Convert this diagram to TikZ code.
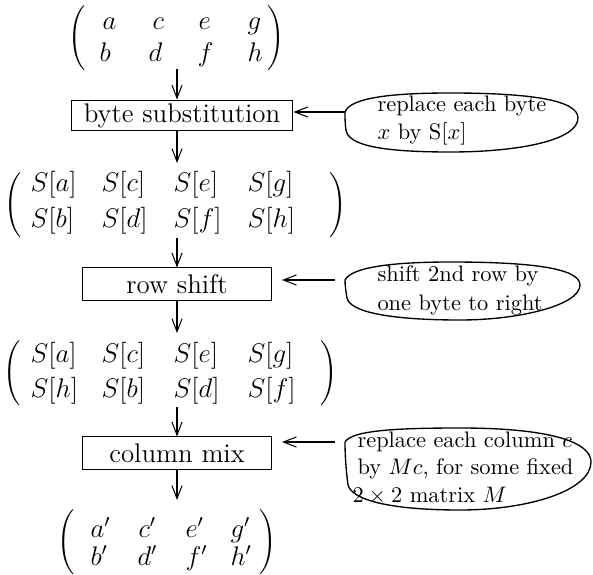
\documentclass[tikz,border=0pt]{standalone}
\usepackage{graphicx}
\usetikzlibrary{arrows.meta}
\newcommand\myLP{\resizebox*{!}{29pt}{$\Biggl($}}
\newcommand\myRP{\resizebox*{!}{29pt}{$\Biggr)$}}
\begin{document}
\begin{tikzpicture}[x=0.446pt,y=-0.446pt, line width=0.45pt,
  font=\fontsize{12}{14.5}\selectfont,
  arr/.style={-{Straight Barb[length=5.8pt,width=4.5pt]}},
  box/.style={draw, rectangle, inner sep=0pt},
  ent/.style={anchor=base west, inner sep=0pt},
  note/.style={anchor=base west, inner sep=0pt, font=\fontsize{10}{12}\selectfont},
  paren/.style={inner sep=0pt},
  blob/.style={draw, line width=0.6pt}]
\useasboundingbox (0,0) rectangle (593,575);

% matrix 1
\node[paren] (m1l) at (77,38) {\myLP};
\node[paren] (m1r) at (276,38) {\myRP};
\node[ent] (a1) at (102,30) {$a$};
\node[ent] (c1) at (152,30) {$c$};
\node[ent] (e1) at (198,30) {$e$};
\node[ent] (g1) at (247,30) {$g$};
\node[ent] (b1) at (99,62) {$b$};
\node[ent] (d1) at (148,62) {$d$};
\node[ent] (f1) at (197,62) {$f$};
\node[ent] (h1) at (247,62) {$h$};
\coordinate (m1b) at (177,69);

% box 1
\node[box, minimum width=99pt, minimum height=13.8pt] (box1) at (182,115.5) {byte substitution};

% matrix 2
\coordinate (m2t) at (177,163);
\node[paren] (m2l) at (13,205) {\myLP};
\node[paren] (m2r) at (338,205) {\myRP};
\node[ent] (sa2) at (30,192) {$S[a]$};
\node[ent] (sc2) at (101,192) {$S[c]$};
\node[ent] (se2) at (173,192) {$S[e]$};
\node[ent] (sg2) at (247,192) {$S[g]$};
\node[ent] (sb2) at (30,227) {$S[b]$};
\node[ent] (sd2) at (101,227) {$S[d]$};
\node[ent] (sf2) at (173,227) {$S[f]$};
\node[ent] (sh2) at (247,227) {$S[h]$};
\coordinate (m2b) at (177,238);

% box 2
\node[box, minimum width=84.7pt, minimum height=14.3pt] (box2) at (177,284) {row shift};

% matrix 3
\coordinate (m3t) at (177,333);
\node[paren] (m3l) at (12,373) {\myLP};
\node[paren] (m3r) at (329,373) {\myRP};
\node[ent] (sa3) at (30,362) {$S[a]$};
\node[ent] (sc3) at (101,362) {$S[c]$};
\node[ent] (se3) at (173,362) {$S[e]$};
\node[ent] (sg3) at (247,362) {$S[g]$};
\node[ent] (sh3) at (30,397) {$S[h]$};
\node[ent] (sb3) at (101,397) {$S[b]$};
\node[ent] (sd3) at (173,397) {$S[d]$};
\node[ent] (sf3) at (247,397) {$S[f]$};
\coordinate (m3b) at (177,407);

% box 3
\node[box, minimum width=84.7pt, minimum height=14.3pt] (box3) at (177,453) {column mix};

% matrix 4
\coordinate (m4t) at (177,500);
\node[paren] (m4l) at (66,542) {\myLP};
\node[paren] (m4r) at (268,542) {\myRP};
\node[ent] (a4) at (90,537) {$a'$};
\node[ent] (c4) at (138,537) {$c'$};
\node[ent] (e4) at (185,537) {$e'$};
\node[ent] (g4) at (230,537) {$g'$};
\node[ent] (b4) at (90,565) {$b'$};
\node[ent] (d4) at (137,565) {$d'$};
\node[ent] (f4) at (185,565) {$f'$};
\node[ent] (h4) at (230,565) {$h'$};

% vertical arrows
\draw[arr] (m1b) -- (box1.north -| m1b);
\draw[arr] (box1.south -| m2t) -- (m2t);
\draw[arr] (m2b) -- (box2.north);
\draw[arr] (box2.south) -- (m3t);
\draw[arr] (m3b) -- (box3.north);
\draw[arr] (box3.south) -- (m4t);

% note 1
\draw[blob] (345,112) .. controls (350,98) and (390,93) .. (450,93)
  .. controls (530,93) and (578,100) .. (578,118)
  .. controls (578,140) and (520,152) .. (450,152)
  .. controls (380,152) and (348,145) .. (346,130)
  .. controls (345,124) and (345,118) .. (345,112) -- cycle;
\coordinate (n1w) at (345,112);
\node[note] (t11) at (377,112) {replace each byte};
\node[note] (t12) at (377,140) {$x$ by S[$x$]};
\draw[arr] (n1w) -- (box1.east |- n1w);

% note 2
\draw[blob] (345,280) .. controls (352,266) and (400,262) .. (450,262)
  .. controls (530,262) and (580,268) .. (580,285)
  .. controls (580,305) and (520,320) .. (460,320)
  .. controls (390,320) and (350,312) .. (347,298)
  .. controls (346,292) and (345,286) .. (345,280) -- cycle;
\coordinate (n2w) at (335,280);
\coordinate (b2e) at (282,280);
\node[note] (t21) at (377,282) {shift 2nd row by};
\node[note] (t22) at (377,310) {one byte to right};
\draw[arr] (n2w) -- (b2e);

% note 3
\draw[blob] (345,442) .. controls (352,430) and (400,428) .. (460,428)
  .. controls (550,428) and (591,442) .. (591,462)
  .. controls (591,490) and (530,510) .. (460,510)
  .. controls (390,510) and (352,500) .. (348,485)
  .. controls (346,470) and (345,455) .. (345,442) -- cycle;
\coordinate (n3w) at (335,442);
\coordinate (b3e) at (282,442);
\node[note] (t31) at (357,447) {replace each column $c$};
\node[note] (t32) at (357,474) {by $Mc$, for some fixed};
\node[note] (t33) at (352,502) {$2\times 2$ matrix $M$};
\draw[arr] (n3w) -- (b3e);
\end{tikzpicture}
\end{document}
